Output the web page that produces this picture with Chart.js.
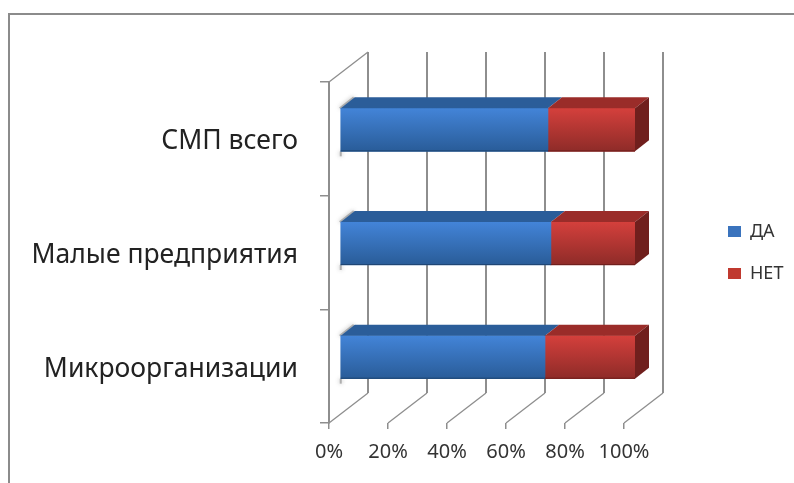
<!DOCTYPE html>
<html lang="ru">
<head>
<meta charset="utf-8">
<title>СМП</title>
<script src="https://cdn.jsdelivr.net/npm/chart.js@4"></script>
<style>
  html, body { margin: 0; background: #fff; }
  #frame { position: absolute; left: 8px; top: 13px; right: 0; bottom: 0; border-top: 2px solid #8b8b8b; border-left: 2px solid #8b8b8b; }
  #wrap { position: absolute; left: 0; top: 0; width: 794px; height: 483px; }
</style>
</head>
<body>
<div id="frame"></div>
<div id="wrap"><canvas id="chart"></canvas></div>
<script>
const categories = ['СМП всего', 'Малые предприятия', 'Микроорганизации'];
const yesValues = [70.5, 71.5, 69.5];
const noValues = [29.5, 28.5, 30.5];
const seriesNames = ['ДА', 'НЕТ'];

const FONT = '"Noto Sans", sans-serif';
const GRID = '#8e8e8e';
const BAR_THICKNESS = 43;
// 3d look: where the bars sit in front of the walls, and wall/bar depth
const BAR_SHIFT = { x: 11, y: -9 };
const WALL_DEPTH = { x: 39, y: -30 };
const BAR_DEPTH = { x: 14, y: -11 };

const blue = { top: '#4384d8', bottom: '#295c98', cap: '#2b5d99', side: '#1f4674', solid: '#3a73bd' };
const red = { top: '#d4403c', bottom: '#8e2b28', cap: '#9a2c29', side: '#701f1d', solid: '#c0392f' };

function faceGradient(colors) {
  return (context) => {
    const chart = context.chart;
    const mid = chart.scales.y.getPixelForValue(context.dataIndex);
    if (!Number.isFinite(mid)) return colors.solid;
    const g = chart.ctx.createLinearGradient(0, mid - BAR_THICKNESS / 2, 0, mid + BAR_THICKNESS / 2);
    g.addColorStop(0, colors.top);
    g.addColorStop(1, colors.bottom);
    return g;
  };
}

function polygon(ctx, points, fill) {
  ctx.beginPath();
  points.forEach((p, i) => (i ? ctx.lineTo(p[0], p[1]) : ctx.moveTo(p[0], p[1])));
  ctx.closePath();
  ctx.fillStyle = fill;
  ctx.fill();
}

const walls3d = {
  id: 'walls3d',
  beforeLayout(chart) {
    const legend = chart.legend;
    if (legend.patched) return;
    legend.patched = true;
    // legend column takes a fixed width, so the plot keeps its place
    const fit = legend.fit;
    legend.fit = function () { fit.call(this); this.width = 170; };
    // category labels sit a bit under the category centre
    const yScale = chart.scales.y;
    const drawLabels = yScale.drawLabels;
    yScale.drawLabels = function (area) {
      chart.ctx.save();
      chart.ctx.translate(0, 3);
      drawLabels.call(this, area);
      chart.ctx.restore();
    };
  },
  afterLayout(chart) {
    chart.legend.left = 704;
    chart.legend.bottom = chart.chartArea.bottom;
  },
  beforeDatasetsDraw(chart) {
    const { ctx, scales: { x } } = chart;
    const top = chart.chartArea.top;
    const bottom = chart.chartArea.bottom;
    ctx.save();
    ctx.strokeStyle = GRID;
    ctx.lineWidth = 2;
    x.ticks.forEach((t) => {
      const px = x.getPixelForValue(t.value);
      ctx.beginPath();
      ctx.moveTo(px + WALL_DEPTH.x, top + WALL_DEPTH.y);
      ctx.lineTo(px + WALL_DEPTH.x, bottom + WALL_DEPTH.y);
      ctx.stroke();
    });
    ctx.lineWidth = 1.3;
    x.ticks.forEach((t) => {
      const px = x.getPixelForValue(t.value);
      ctx.beginPath();
      ctx.moveTo(px, bottom);
      ctx.lineTo(px + WALL_DEPTH.x, bottom + WALL_DEPTH.y);
      ctx.stroke();
    });
    ctx.beginPath();
    ctx.moveTo(x.left, top);
    ctx.lineTo(x.left + WALL_DEPTH.x, top + WALL_DEPTH.y);
    ctx.stroke();
    ctx.restore();

    // the bars sit a little in front of the walls
    ctx.save();
    ctx.translate(BAR_SHIFT.x, BAR_SHIFT.y);
    chart.getDatasetMeta(0).data.forEach((bar) => {
      const t = bar.y - BAR_THICKNESS / 2;
      ctx.save();
      ctx.shadowColor = 'rgba(90,90,90,0.7)';
      ctx.shadowBlur = 4;
      ctx.strokeStyle = 'rgba(150,150,150,0.7)';
      ctx.lineWidth = 2;
      ctx.beginPath();
      ctx.moveTo(bar.base - 1, t);
      ctx.lineTo(bar.base + BAR_DEPTH.x - 1, t + BAR_DEPTH.y);
      ctx.stroke();
      ctx.beginPath();
      ctx.moveTo(bar.base, t + BAR_THICKNESS);
      ctx.lineTo(bar.base, t + BAR_THICKNESS + 5);
      ctx.stroke();
      ctx.restore();
    });
  },
  afterDatasetsDraw(chart) {
    const { ctx } = chart;
    const colors = [blue, red];
    const d = BAR_DEPTH;
    chart.data.datasets.forEach((ds, i) => {
      chart.getDatasetMeta(i).data.forEach((bar) => {
        const t = bar.y - BAR_THICKNESS / 2;
        const b = bar.y + BAR_THICKNESS / 2;
        polygon(ctx, [[bar.base, t], [bar.x, t], [bar.x + d.x, t + d.y], [bar.base + d.x, t + d.y]], colors[i].cap);
        if (i === 1) {
          polygon(ctx, [[bar.x, t], [bar.x + d.x, t + d.y], [bar.x + d.x, b + d.y], [bar.x, b]], colors[i].side);
        }
        ctx.fillStyle = colors[i].side;
        ctx.fillRect(bar.base, b - 1, bar.x - bar.base, 1);
      });
    });
    ctx.restore();
  }
};

new Chart(document.getElementById('chart'), {
  type: 'bar',
  data: {
    labels: categories,
    datasets: [
      { label: seriesNames[0], data: yesValues, backgroundColor: faceGradient(blue), barThickness: BAR_THICKNESS },
      { label: seriesNames[1], data: noValues, backgroundColor: faceGradient(red), barThickness: BAR_THICKNESS }
    ]
  },
  options: {
    indexAxis: 'y',
    responsive: true,
    maintainAspectRatio: false,
    animation: false,
    layout: { padding: { top: 82, left: 0, right: 0, bottom: 0 } },
    plugins: {
      tooltip: { enabled: false },
      legend: {
        position: 'right',
        labels: {
          boxWidth: 13,
          boxHeight: 11,
          padding: 24,
          color: '#333',
          font: { family: FONT, size: 18 },
          generateLabels(chart) {
            const items = Chart.defaults.plugins.legend.labels.generateLabels(chart);
            items.forEach((item, i) => { item.fillStyle = [blue, red][i].solid; item.lineWidth = 0; });
            return items;
          }
        }
      }
    },
    scales: {
      x: {
        stacked: true,
        min: 0,
        max: 100,
        afterFit: (scale) => { scale.height = 60; },
        grid: { drawOnChartArea: false, color: GRID, tickLength: 6, lineWidth: 1.5 },
        border: { display: false },
        ticks: { stepSize: 20, padding: 11, maxRotation: 0, color: '#333', font: { family: FONT, size: 20 }, callback: (v) => v + '%' }
      },
      y: {
        stacked: true,
        afterFit: (scale) => { scale.width = 329; },
        grid: { drawOnChartArea: false, color: GRID, tickLength: 9, lineWidth: 1.5 },
        border: { display: true, color: GRID, width: 2 },
        ticks: { padding: 22, color: '#222', font: { family: FONT, size: 26.5 } }
      }
    }
  },
  plugins: [walls3d]
});
</script>
</body>
</html>
